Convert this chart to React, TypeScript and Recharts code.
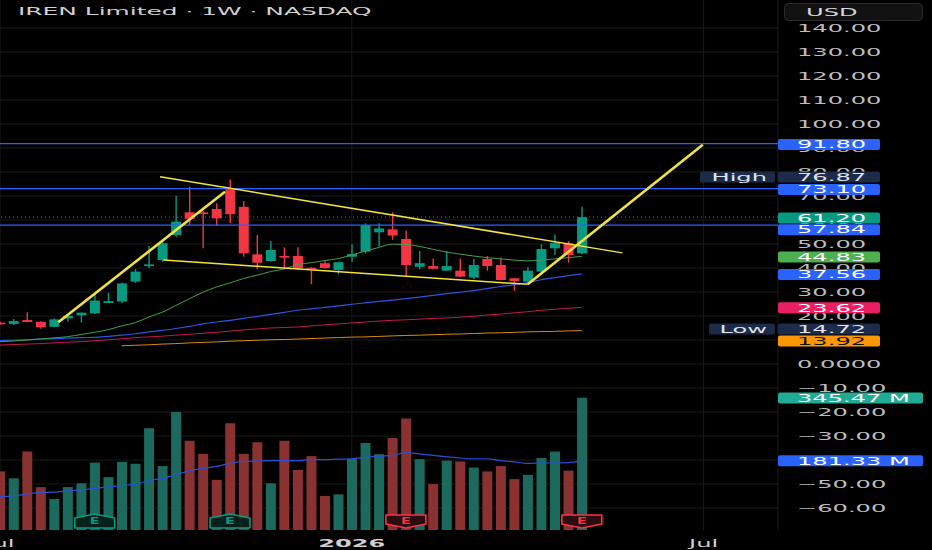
import { ComposedChart, Bar, Line, XAxis, YAxis, CartesianGrid, ReferenceLine, ReferenceDot, Cell } from 'recharts'

// weekly candles, Jul 2025 -> May 2026 (index 0 = first July week)
const OPEN = [17.2, 16.7, 18.3, 17.6, 15.5, 19.0, 20.3, 21.1, 25.4, 26.0, 34.3, 40.8, 43.3, 53.75, 63.2, 63.2, 64.6, 72.8, 65.5, 45.7, 42.9, 45.0, 45.0, 40.1, 42.0, 39.2, 44.7, 46.8, 54.9, 56.1, 52.1, 40.5, 40.8, 38.9, 38.9, 36.0, 43.75, 41.25, 35.7, 34.3, 38.5, 48.2, 50.3, 46.1]
const HIGH = [17.6, 18.75, 21.5, 17.8, 19.0, 20.8, 21.5, 29.4, 29.7, 34.0, 39.6, 49.2, 51.7, 70.0, 73.9, 63.6, 67.0, 76.87, 67.9, 53.75, 51.25, 48.6, 48.6, 40.4, 43.0, 42.6, 49.9, 58.6, 58.6, 63.2, 55.5, 47.1, 44.0, 47.1, 44.0, 43.75, 45.0, 44.4, 35.9, 40.3, 49.9, 54.0, 51.25, 65.5]
const LOW = [16.4, 16.25, 17.4, 14.72, 15.3, 17.6, 17.2, 20.8, 25.3, 25.3, 33.75, 39.9, 42.6, 53.0, 57.9, 48.2, 57.5, 58.6, 44.7, 39.4, 42.5, 39.9, 39.2, 33.2, 39.7, 37.4, 42.6, 46.1, 48.9, 51.7, 36.4, 39.4, 39.4, 38.7, 36.2, 35.3, 38.9, 34.8, 30.5, 33.6, 38.3, 45.4, 42.2, 45.8]
const CLOSE = [16.8, 17.9, 17.5, 15.3, 18.6, 20.1, 21.4, 26.4, 26.2, 33.6, 38.5, 41.5, 50.3, 59.3, 60.5, 62.8, 60.7, 62.4, 46.1, 42.2, 47.5, 44.4, 39.9, 39.6, 40.0, 42.4, 45.8, 57.9, 56.5, 53.5, 41.25, 42.0, 39.7, 40.8, 36.4, 41.25, 40.8, 35.0, 34.6, 38.9, 47.9, 50.5, 45.4, 61.2]
// volume in millions
const VOLUME = [153, 135, 205, 112, 81, 112, 122, 176, 138, 178, 173, 266, 167, 308, 233, 199, 131, 279, 199, 229, 122, 233, 157, 193, 89, 93, 186, 227, 198, 240, 291, 185, 120, 181, 179, 163, 153, 167, 133, 144, 188, 205, 155, 345.47]
const VOL_MA = [87, 89, 94, 98, 99, 102, 105, 108, 113, 116, 120, 129, 135, 144, 155, 161, 166, 174, 179, 180, 181, 181, 181, 184, 184, 185, 186, 190, 193, 195, 202, 199, 195, 191, 188, 186, 186, 181, 178, 174, 175, 175, 176, 181.33]
// moving averages
const MA20 = [9.3, 9.6, 10.0, 10.4, 10.9, 11.4, 12.3, 13.2, 14.3, 15.9, 17.2, 19.6, 21.6, 24.4, 27.2, 29.9, 32.1, 33.8, 35.6, 37.0, 38.5, 39.6, 41.4, 42.2, 43.1, 43.9, 45.5, 47.0, 48.6, 49.9, 49.8, 49.0, 47.8, 46.6, 45.8, 45.0, 44.3, 43.8, 43.3, 43.0, 43.3, 43.8, 44.3, 44.83]
const MA50 = [9.7, 9.9, 10.1, 10.4, 10.6, 10.8, 11.0, 11.1, 11.5, 12.0, 12.6, 13.4, 14.0, 14.8, 15.7, 16.7, 17.5, 18.2, 19.0, 19.8, 20.7, 21.5, 22.4, 23.0, 23.6, 24.2, 24.9, 25.5, 26.1, 26.6, 27.2, 27.9, 28.6, 29.3, 29.9, 30.6, 31.4, 32.3, 33.0, 33.9, 35.1, 36.0, 36.8, 37.56]
const MA100 = [7.9, 8.1, 8.3, 8.5, 8.8, 9.1, 9.3, 9.7, 10.1, 10.5, 11.0, 11.3, 11.6, 12.0, 12.4, 12.8, 13.2, 13.7, 14.2, 14.6, 15.0, 15.2, 15.4, 15.9, 16.3, 16.7, 17.1, 17.5, 17.9, 18.2, 18.4, 18.7, 19.0, 19.2, 19.5, 19.9, 20.4, 20.8, 21.3, 21.8, 22.4, 22.8, 23.2, 23.62]
const MA200 = [null, null, null, null, null, null, null, null, null, 7.6, 7.8, 8.0, 8.3, 8.5, 8.8, 9.0, 9.2, 9.5, 9.7, 9.9, 10.1, 10.2, 10.4, 10.6, 10.8, 11.0, 11.2, 11.3, 11.5, 11.7, 11.9, 12.0, 12.2, 12.4, 12.5, 12.7, 12.9, 13.0, 13.2, 13.4, 13.5, 13.6, 13.8, 13.92]

const TIME_TICKS = [0, 26, 52]
const TIME_LABELS = ['Jul', '2026', 'Jul']
const PRICE_TICKS = [-60, -50, -40, -30, -20, -10, 0, 10, 20, 30, 40, 50, 60, 70, 80, 90, 100, 110, 120, 130, 140]

// drawn levels and trend lines [week, price]
const LEVELS = [91.8, 73.1, 57.84]
const LAST_PRICE = 61.2
const TREND_TOP = [[11.83, 78.0], [46.0, 46.3]]
const TREND_BOTTOM = [[12.07, 43.3], [39.0, 33.2]]
const RALLY_1 = [[4.31, 17.4], [16.63, 71.8]]
const RALLY_2 = [[39.0, 33.2], [51.94, 91.4]]

const TAG_VALUES = [91.8, 76.87, 73.1, 61.2, 57.84, 44.83, 37.56, 23.62, 14.72, 13.92]
const TAG_SIDE = ['', 'High', '', '', '', '', '', '', 'Low', '']
const VOL_TAG_VALUES = [345.47, 181.33]

const EARNINGS_WEEKS = [7, 17, 30, 43]
const EARNINGS_BEAT = [true, true, false, false]

// axis ranges (price pane shares its height with the volume pane)
const PRICE_MIN = -69.17
const PRICE_MAX = 151.67
const VOL_MAX = 1384

// look
const UP = '#089981'
const DOWN = '#f23645'
const VOL_UP = '#1b6a5d'
const VOL_DOWN = '#8a3131'
const YELLOW = '#f2e23e'
const BLUE = '#2962ff'
const NAVY = '#1d2b4a'
const FONT = '"DejaVu Sans", sans-serif'
const STRETCH = 2.3
const TAG_BG = [BLUE, NAVY, BLUE, UP, BLUE, '#4caf50', BLUE, '#e91e63', NAVY, '#ff9800']
const TAG_FG = ['#fff', '#dfe3ec', '#fff', '#fff', '#fff', '#fff', '#fff', '#fff', '#dfe3ec', '#131313']
const TAG_NUDGE = [0.8, -2.5, 0.9, 0.9, 4.5, 0.6, 0.6, 0.5, 0.3, 10.4]
const SIDE_WIDTH = [0, 75, 0, 0, 0, 0, 0, 0, 66, 0]
const VOL_TAG_BG = ['#22ab94', BLUE]

const rows = OPEN.map((open, i) => ({
  week: i,
  open,
  high: HIGH[i],
  low: LOW[i],
  close: CLOSE[i],
  volume: VOLUME[i],
  volMa: VOL_MA[i],
  ma20: MA20[i],
  ma50: MA50[i],
  ma100: MA100[i],
  ma200: MA200[i],
}))

// volume tags sit on the price axis: same pane height, so map volume onto the price range
const volOnPrice = (v: number) => PRICE_MIN + (v / VOL_MAX) * (PRICE_MAX - PRICE_MIN)
const AXIS_TICKS = [...PRICE_TICKS, ...TAG_VALUES, ...VOL_TAG_VALUES.map(volOnPrice)]

function Wide({ x, y, children, fill, anchor = 'start', size = 10.5, weight = 400, scale = STRETCH }: any) {
  return (
    <text transform={`translate(${x},${y}) scale(${scale},1)`} textAnchor={anchor} dy="0.36em"
      fontSize={size} fontFamily={FONT} fontWeight={weight} fill={fill}>
      {children}
    </text>
  )
}

const Candle = (props: any) => {
  const { x, y, width, height, payload } = props
  const { open, close, high, low } = payload
  const color = close >= open ? UP : DOWN
  const k = high === low ? 0 : height / (high - low)
  const top = y + (high - Math.max(open, close)) * k
  const bot = y + (high - Math.min(open, close)) * k
  const cx = x + width / 2
  return (
    <g>
      <line x1={cx} x2={cx} y1={y} y2={y + height} stroke={color} strokeWidth={1.4} />
      <rect x={x} y={top} width={width} height={Math.max(1.6, bot - top)} fill={color} />
    </g>
  )
}

function Tag({ x, y, text, bg, fg, width, side, sideWidth }: any) {
  return (
    <g>
      {side ? (
        <g>
          <rect x={x - 3 - sideWidth} y={y - 5.5} width={sideWidth} height={11} rx={2} fill={bg} />
          <Wide x={x - 11} y={y} anchor="end" fill={fg}>{side}</Wide>
        </g>
      ) : null}
      <rect x={x} y={y - 5.5} width={width} height={11} rx={2} fill={bg} />
      <Wide x={x + 19} y={y} fill={fg}>{text}</Wide>
    </g>
  )
}

// price axis: plain ticks first, then the value tags drawn over them
const PriceTick = ({ x, y, payload, index }: any) => {
  const n = PRICE_TICKS.length
  if (index >= n + TAG_VALUES.length) {
    const j = index - n - TAG_VALUES.length
    return <Tag x={x} y={y + 0.3} text={`${VOL_TAG_VALUES[j].toFixed(2)} M`} bg={VOL_TAG_BG[j]} fg="#fff" width={145} />
  }
  if (index >= n) {
    const j = index - n
    return <Tag x={x} y={y + TAG_NUDGE[j]} text={TAG_VALUES[j].toFixed(2)} bg={TAG_BG[j]} fg={TAG_FG[j]}
      width={102} side={TAG_SIDE[j]} sideWidth={SIDE_WIDTH[j]} />
  }
  const v = payload.value
  const txt = v === 0 ? '0.0000' : v < 0 ? `\u2212${Math.abs(v).toFixed(2)}` : v.toFixed(2)
  return <Wide x={x + 19} y={y} fill="#bdbdbd">{txt}</Wide>
}

const TimeTick = ({ x, y, payload }: any) => {
  const label = TIME_LABELS[TIME_TICKS.indexOf(payload.value)]
  return <Wide x={x} y={y + 11} anchor="middle" fill="#cfcfcf" weight={label === '2026' ? 700 : 400}>{label}</Wide>
}

const Earnings = ({ cx, cy, beat }: any) => {
  const c = beat ? UP : DOWN
  const m = cy - 9
  const d = beat
    ? `M${cx - 20},${m - 3} L${cx},${m - 7} L${cx + 20},${m - 3} L${cx + 20},${m + 7} L${cx - 20},${m + 7} Z`
    : `M${cx - 20},${m - 6} L${cx + 20},${m - 6} L${cx + 20},${m + 3} L${cx},${m + 7} L${cx - 20},${m + 3} Z`
  return (
    <g>
      <path d={d} fill={beat ? '#04211c' : '#2e0b0e'} stroke={c} strokeWidth={1.6} strokeLinejoin="round" />
      <Wide x={cx} y={m} anchor="middle" fill={c} size={9} weight={700} scale={1.6}>E</Wide>
    </g>
  )
}

const seg = (s: number[][]) => [{ x: s[0][0], y: s[0][1] }, { x: s[1][0], y: s[1][1] }]

export default function App() {
  return (
    <div style={{ position: 'absolute', left: 0, top: 0, width: 932, height: 550, background: '#000', overflow: 'hidden' }}>
      <ComposedChart width={932} height={550} data={rows} margin={{ top: 0, right: 0, bottom: 0, left: 0 }}>
        <CartesianGrid stroke="#1a1a1a" strokeWidth={1} horizontalValues={PRICE_TICKS} />
        <XAxis dataKey="week" type="number" domain={[0, 57.5]} ticks={TIME_TICKS} tick={<TimeTick />} interval={0}
          height={20} tickLine={false} axisLine={false} tickSize={0} allowDataOverflow />
        <XAxis xAxisId="v" dataKey="week" type="number" domain={[0, 57.5]} hide allowDataOverflow />
        <YAxis orientation="right" type="number" width={154} domain={[PRICE_MIN, PRICE_MAX]} ticks={AXIS_TICKS} interval={0}
          tick={<PriceTick />} tickLine={false} axisLine={false} tickSize={0} tickMargin={0} allowDataOverflow />
        <YAxis yAxisId="v" type="number" domain={[0, VOL_MAX]} hide allowDataOverflow />

        <Bar xAxisId="v" yAxisId="v" dataKey="volume" barSize={10} isAnimationActive={false}>
          {rows.map(r => <Cell key={r.week} fill={r.close >= r.open ? VOL_UP : VOL_DOWN} />)}
        </Bar>
        <Line xAxisId="v" yAxisId="v" dataKey="volMa" stroke="#2d4fd8" strokeWidth={1.2} dot={false} activeDot={false} type="monotone" isAnimationActive={false} />

        <Line dataKey="ma200" stroke="#d98a12" strokeWidth={1} dot={false} activeDot={false} type="monotone" isAnimationActive={false} />
        <Line dataKey="ma100" stroke="#c2185b" strokeWidth={1} dot={false} activeDot={false} type="monotone" isAnimationActive={false} />
        <Line dataKey="ma50" stroke="#2e55e0" strokeWidth={1.2} dot={false} activeDot={false} type="monotone" isAnimationActive={false} />
        <Line dataKey="ma20" stroke="#43a047" strokeWidth={1} dot={false} activeDot={false} type="monotone" isAnimationActive={false} />

        <Bar dataKey={(d: any) => [d.low, d.high]} shape={Candle} barSize={10} isAnimationActive={false} />

        {LEVELS.map(v => <ReferenceLine key={v} y={v} stroke={BLUE} strokeWidth={1.3} ifOverflow="visible" />)}
        <ReferenceLine y={LAST_PRICE} stroke={UP} strokeDasharray="1 3" strokeWidth={1} ifOverflow="visible" />

        <ReferenceLine segment={seg(TREND_TOP)} stroke={YELLOW} strokeWidth={1.5} ifOverflow="visible" />
        <ReferenceLine segment={seg(TREND_BOTTOM)} stroke={YELLOW} strokeWidth={1.5} ifOverflow="visible" />
        <ReferenceLine segment={seg(RALLY_1)} stroke={YELLOW} strokeWidth={2.6} ifOverflow="visible" />
        <ReferenceLine segment={seg(RALLY_2)} stroke={YELLOW} strokeWidth={2.6} ifOverflow="visible" />

        {EARNINGS_WEEKS.map((w, i) => (
          <ReferenceDot key={w} xAxisId="v" yAxisId="v" x={w} y={0} r={1} ifOverflow="visible"
            shape={(p: any) => <Earnings cx={p.cx} cy={p.cy} beat={EARNINGS_BEAT[i]} />} />
        ))}
      </ComposedChart>

      <svg width={932} height={30} style={{ position: 'absolute', left: 0, top: 0, pointerEvents: 'none' }}>
        <Wide x={18} y={11} fill="#d0d0d0" scale={2.37}>IREN Limited · 1W · NASDAQ</Wide>
        <rect x={784.5} y={3.5} width={138} height={17} rx={4} fill="#121212" stroke="#2a2a2a" />
        <Wide x={806} y={12} fill="#d6d6d6">USD</Wide>
      </svg>
    </div>
  )
}
